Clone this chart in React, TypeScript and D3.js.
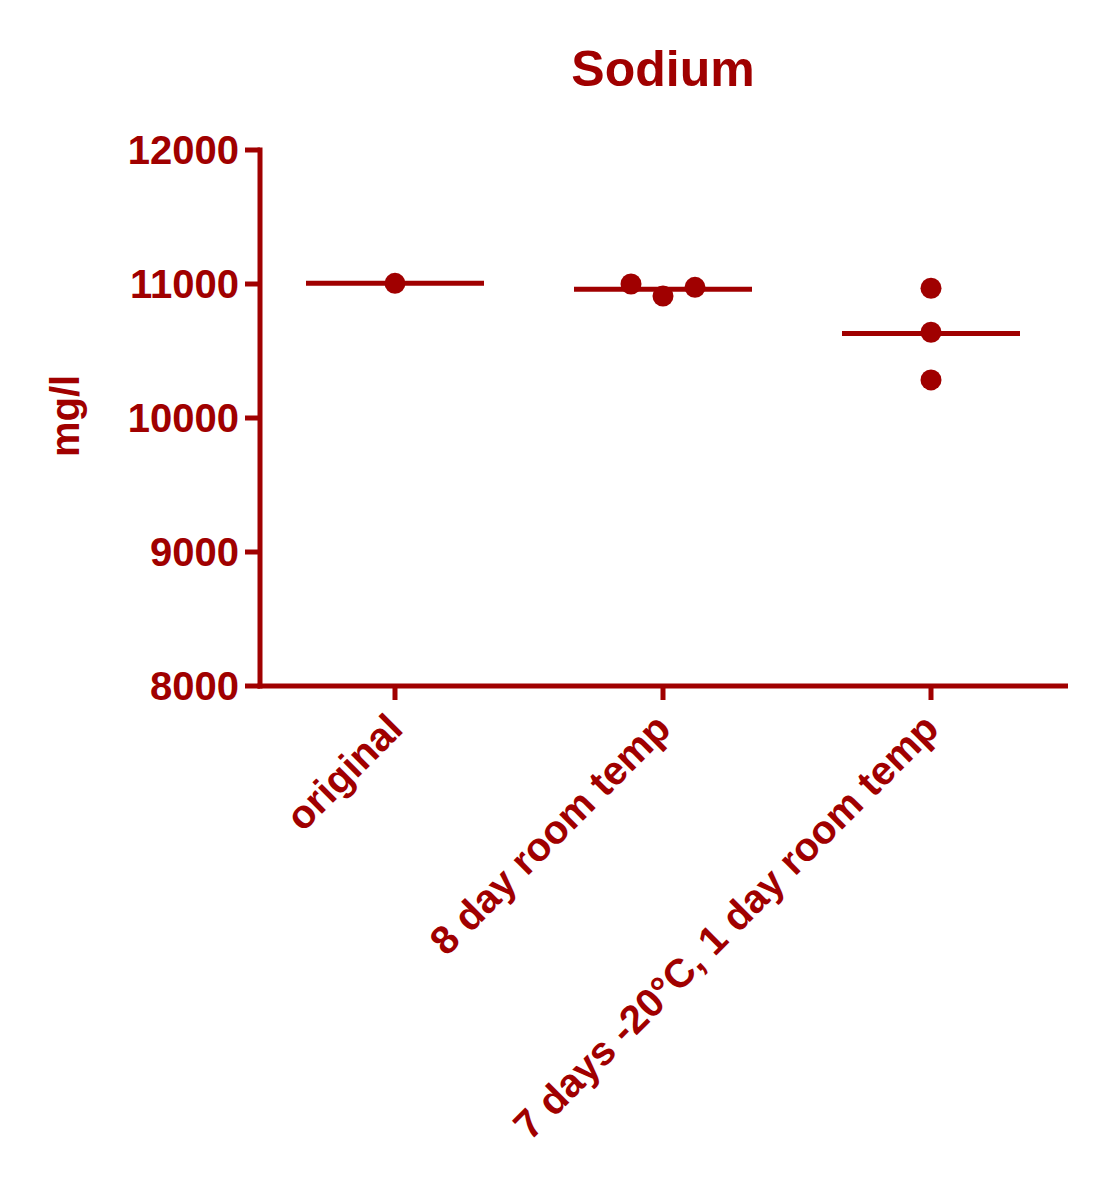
import React from "react";
import * as d3 from "d3";

const categories = ["original", "8 day room temp", "7 days -20°C, 1 day room temp"];
const originalValues = [11005];
const eightDayValues = [11000, 10910, 10975];
const sevenDayValues = [10968, 10640, 10284];
const seriesValues = [originalValues, eightDayValues, sevenDayValues];
const yTicks = [8000, 9000, 10000, 11000, 12000];
const title = "Sodium";
const yLabel = "mg/l";

const COLOR = "#a00000";
const FONT = "'Liberation Sans', Arial, Helvetica, sans-serif";

export default function App() {
  const width = 1093;
  const height = 1200;
  const axisX = 260;
  const axisRight = 1068;
  const axisY = 686;
  const topY = 150;

  const y = d3.scaleLinear().domain([8000, 12000]).range([axisY, topY]);
  const x = d3.scalePoint<string>().domain(categories).range([395, 931]);

  const r = 10.5;
  const step = 32;
  const halfMean = 89;

  // simple beeswarm offsets
  const placed = seriesValues.map((vals) => {
    const items = vals.map((v, i) => ({ v, i, off: 0 }));
    const sorted = [...items].sort((a, b) => a.v - b.v);
    const done: { v: number; off: number }[] = [];
    sorted.forEach((it) => {
      const candidates = [0];
      for (let k = 1; k < 10; k++) candidates.push(k * step, -k * step);
      for (const c of candidates) {
        const clash = done.some(
          (d) => d.off === c && Math.abs(y(d.v) - y(it.v)) < 2 * r
        );
        if (!clash) {
          it.off = c;
          break;
        }
      }
      done.push({ v: it.v, off: it.off });
    });
    return items;
  });

  return (
    <svg
      width={width}
      height={height}
      style={{ position: "absolute", left: 0, top: 0, background: "#fff" }}
    >
      <rect x={0} y={0} width={width} height={height} fill="#fff" />
      <text
        x={663}
        y={86}
        textAnchor="middle"
        fontFamily={FONT}
        fontWeight="bold"
        fontSize={50}
        fill={COLOR}
      >
        {title}
      </text>

      {/* y axis */}
      <line x1={axisX} x2={axisX} y1={topY - 2.5} y2={axisY + 2.5} stroke={COLOR} strokeWidth={5} />
      {yTicks.map((t) => (
        <g key={t}>
          <line x1={245} x2={axisX} y1={y(t)} y2={y(t)} stroke={COLOR} strokeWidth={5} />
          <text
            x={239}
            y={y(t)}
            dy="0.36em"
            textAnchor="end"
            fontFamily={FONT}
            fontWeight="bold"
            fontSize={40}
            fill={COLOR}
          >
            {t}
          </text>
        </g>
      ))}

      {/* x axis */}
      <line x1={axisX - 2.5} x2={axisRight} y1={axisY} y2={axisY} stroke={COLOR} strokeWidth={5} />
      {categories.map((c) => (
        <g key={c}>
          <line x1={x(c)!} x2={x(c)!} y1={axisY} y2={axisY + 14} stroke={COLOR} strokeWidth={5} />
          <text
            transform={`translate(${x(c)!},721) rotate(-45)`}
            dy="0.35em"
            textAnchor="end"
            fontFamily={FONT}
            fontWeight="bold"
            fontSize={40}
            fill={COLOR}
          >
            {c}
          </text>
        </g>
      ))}

      {/* y label */}
      <text
        transform={`translate(79,416) rotate(-90)`}
        textAnchor="middle"
        fontFamily={FONT}
        fontWeight="bold"
        fontSize={40}
        fill={COLOR}
      >
        {yLabel}
      </text>

      {/* means */}
      {seriesValues.map((vals, ci) => {
        const m = d3.mean(vals)!;
        const cx = x(categories[ci])!;
        return (
          <line
            key={"m" + ci}
            x1={cx - halfMean}
            x2={cx + halfMean}
            y1={y(m)}
            y2={y(m)}
            stroke={COLOR}
            strokeWidth={5}
          />
        );
      })}

      {/* points */}
      {placed.map((items, ci) =>
        items.map((it) => (
          <circle
            key={ci + "-" + it.i}
            cx={x(categories[ci])! + it.off}
            cy={y(it.v)}
            r={r}
            fill={COLOR}
          />
        ))
      )}
    </svg>
  );
}
